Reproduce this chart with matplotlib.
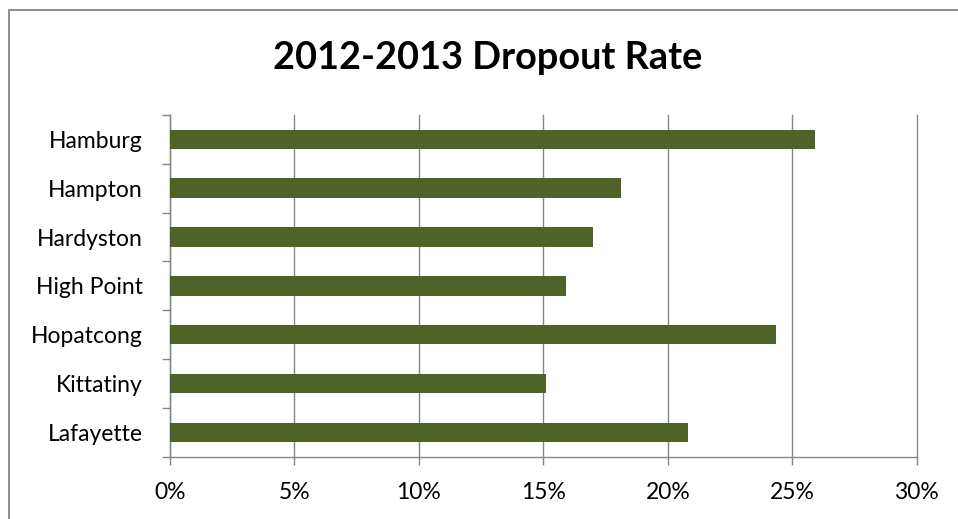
import matplotlib
matplotlib.use("Agg")
import matplotlib.pyplot as plt
from matplotlib.patches import Rectangle
from matplotlib.ticker import FuncFormatter, FixedLocator
import numpy as np

districts = ["Hamburg", "Hampton", "Hardyston", "High Point", "Hopatcong", "Kittatiny", "Lafayette"]
dropout_rate = [25.9, 18.1, 17.0, 15.9, 24.35, 15.1, 20.8]
x_ticks = [0, 5, 10, 15, 20, 25, 30]
title = "2012-2013 Dropout Rate"

plt.rcParams['font.family'] = ['Lato', 'DejaVu Sans']

W, H = 958, 519
fig = plt.figure(figsize=(W / 100, H / 100), dpi=100)
fig.patch.set_facecolor("white")

# outer chart border (only top and left visible)
fig.add_artist(Rectangle((8.5 / W, -0.1), 1.2, (H - 9.5) / H + 0.1, transform=fig.transFigure,
                         fill=False, edgecolor="#8c8c8c", linewidth=1.4))

left, right, bottom, top = 170, 916.7, 456.7, 115
ax = fig.add_axes([left / W, (H - bottom) / H, (right - left) / W, (bottom - top) / H])

y = np.arange(len(districts))
ax.barh(y, dropout_rate, height=0.4, color="#4f6228", zorder=3)
ax.set_ylim(len(districts) - 0.5, -0.5)
ax.set_xlim(0, 30)

ax.set_yticks(y)
ax.set_yticklabels(districts)
ax.yaxis.set_minor_locator(FixedLocator(np.arange(-0.5, len(districts), 1.0)))
ax.tick_params(axis="y", which="major", length=0, pad=19.5, labelsize=16.5, labelcolor="black")
ax.tick_params(axis="y", which="minor", length=6, width=1.0, color="#868686", direction="out")

ax.set_xticks(x_ticks)
ax.xaxis.set_major_formatter(FuncFormatter(lambda v, p: f"{int(v)}%"))
ax.tick_params(axis="x", which="major", length=6, width=1.0, color="#868686", pad=12,
               labelsize=16.5, labelcolor="black", direction="out")

ax.grid(axis="x", color="#868686", linewidth=1.0, zorder=0)
for gl in ax.get_xgridlines():
    gl.set_clip_on(False)
for s in ["top", "right"]:
    ax.spines[s].set_visible(False)
for s in ["left", "bottom"]:
    ax.spines[s].set_color("#868686")
    ax.spines[s].set_linewidth(1.0)

fig.text(488 / W, 1 - 69.3 / H, title, ha="center", va="baseline",
         fontsize=27.3, fontweight="bold", color="black")

fig.savefig("out.png", dpi=100, facecolor="white")
